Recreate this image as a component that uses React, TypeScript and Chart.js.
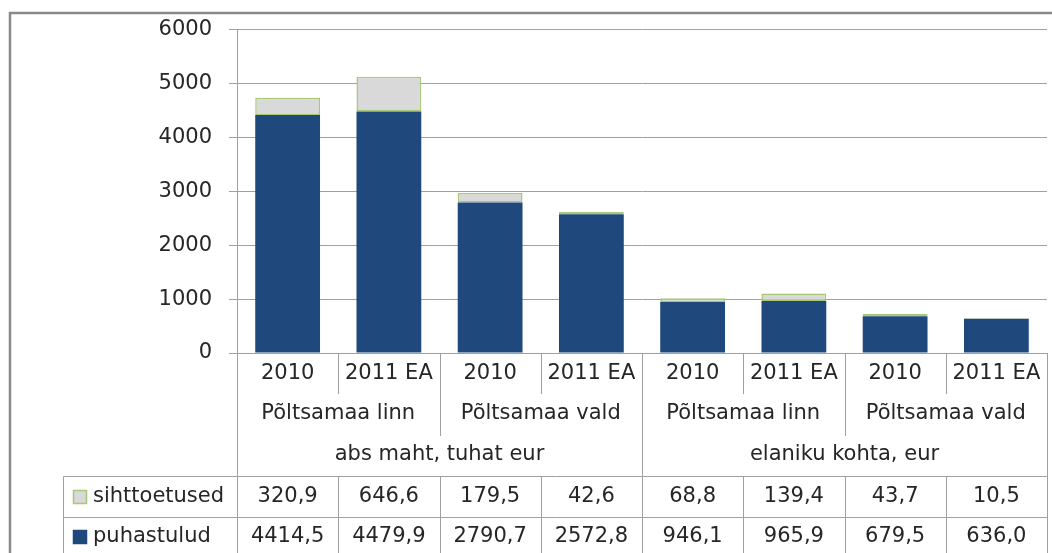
import React, { useEffect, useRef } from "react";
import { Chart, registerables } from "chart.js";

Chart.register(...registerables);

const categories = ["2010", "2011 EA", "2010", "2011 EA", "2010", "2011 EA", "2010", "2011 EA"];
const groups = ["Põltsamaa linn", "Põltsamaa vald", "Põltsamaa linn", "Põltsamaa vald"];
const supergroups = ["abs maht, tuhat eur", "elaniku kohta, eur"];
const puhastulud = [4414.5, 4479.9, 2790.7, 2572.8, 946.1, 965.9, 679.5, 636.0];
const sihttoetused = [320.9, 646.6, 179.5, 42.6, 68.8, 139.4, 43.7, 10.5];
const seriesNames = ["sihttoetused", "puhastulud"];
const yMin = 0;
const yMax = 6000;
const yStep = 1000;

const BLUE = "#1f497d";
const GRAY = "#d9d9d9";
const GREEN = "#a8c878";
const LINE = "#a0a0a0";
const TEXT = "#262626";
const FONT = "'DejaVu Sans'";
const FS = 21;

const fmt = (v: number) => v.toFixed(1).replace(".", ",");

const tablePlugin = {
  id: "tablePlugin",
  beforeDraw(chart: any) {
    const ctx = chart.ctx;
    ctx.save();
    ctx.strokeStyle = "#8a8a8a";
    ctx.lineWidth = 2.5;
    ctx.beginPath();
    ctx.moveTo(10, 600);
    ctx.lineTo(10, 13);
    ctx.lineTo(1060, 13);
    ctx.stroke();
    ctx.restore();
  },
  afterDraw(chart: any) {
    const ctx = chart.ctx;
    const x = chart.scales.x;
    const area = chart.chartArea;
    const n = categories.length;
    const w = x.getPixelForValue(1) - x.getPixelForValue(0);
    const left = area.left;
    const right = area.right;
    const axisY = area.bottom;
    const b = (i: number) => Math.round(x.getPixelForValue(i) - w / 2) + 0.5;
    const tableLeft = 63.5;
    const row1 = 476.5;
    const row2 = 517.5;
    const bottom = 560;

    ctx.save();
    ctx.strokeStyle = LINE;
    ctx.lineWidth = 1;
    ctx.beginPath();
    ctx.moveTo(left, axisY + 0.5);
    ctx.lineTo(right, axisY + 0.5);
    for (let i = 0; i <= n; i++) {
      const bx = i === n ? Math.round(right) + 0.5 : b(i);
      let y2 = axisY + 41;
      if (i === 0 || i === n || i === n / 2) y2 = bottom;
      else if (i % 2 === 0) y2 = axisY + 83;
      ctx.moveTo(bx, axisY);
      ctx.lineTo(bx, y2);
      ctx.moveTo(bx, row1);
      ctx.lineTo(bx, bottom);
    }
    ctx.moveTo(tableLeft, row1);
    ctx.lineTo(right, row1);
    ctx.moveTo(tableLeft, row2);
    ctx.lineTo(right, row2);
    ctx.moveTo(tableLeft, row1);
    ctx.lineTo(tableLeft, bottom);
    ctx.stroke();

    ctx.fillStyle = TEXT;
    ctx.font = `${FS}px ${FONT}`;
    ctx.textAlign = "center";
    ctx.textBaseline = "middle";
    for (let i = 0; i < n; i++) {
      const cx = x.getPixelForValue(i);
      ctx.fillText(categories[i], cx, axisY + 21);
      ctx.fillText(fmt(sihttoetused[i]), cx, 497);
      ctx.fillText(fmt(puhastulud[i]), cx, 537);
    }
    for (let g = 0; g < groups.length; g++) {
      const cx = (x.getPixelForValue(g * 2) + x.getPixelForValue(g * 2 + 1)) / 2;
      ctx.fillText(groups[g], cx, axisY + 61);
    }
    for (let s = 0; s < supergroups.length; s++) {
      const cx = (x.getPixelForValue(s * 4 + 1) + x.getPixelForValue(s * 4 + 2)) / 2;
      ctx.fillText(supergroups[s], cx, axisY + 102);
    }
    ctx.textAlign = "left";
    const rowsY = [497, 537];
    const fills = [GRAY, BLUE];
    const strokes = [GREEN, BLUE];
    for (let r = 0; r < 2; r++) {
      ctx.fillStyle = fills[r];
      ctx.fillRect(73, rowsY[r] - 7, 14, 14);
      ctx.strokeStyle = strokes[r];
      ctx.lineWidth = 1.5;
      ctx.strokeRect(73.5, rowsY[r] - 6.5, 13, 13);
      ctx.fillStyle = TEXT;
      ctx.fillText(seriesNames[r], 93, rowsY[r]);
    }
    ctx.restore();
  },
};

export default function App() {
  const ref = useRef<HTMLCanvasElement | null>(null);
  useEffect(() => {
    if (!ref.current) return;
    const chart = new Chart(ref.current, {
      type: "bar",
      data: {
        labels: categories,
        datasets: [
          {
            label: seriesNames[1],
            data: puhastulud,
            backgroundColor: BLUE,
            borderWidth: 0,
            barPercentage: 0.64,
            categoryPercentage: 1,
          },
          {
            label: seriesNames[0],
            data: sihttoetused,
            backgroundColor: GRAY,
            borderColor: GREEN,
            borderWidth: 1.5,
            borderSkipped: false,
            barPercentage: 0.64,
            categoryPercentage: 1,
          },
        ],
      },
      options: {
        animation: false,
        responsive: true,
        maintainAspectRatio: false,
        layout: { padding: { left: 0, top: 26, right: 5, bottom: 200 } },
        plugins: { legend: { display: false }, tooltip: { enabled: false } },
        scales: {
          x: {
            stacked: true,
            ticks: { display: false },
            grid: { display: false, drawTicks: false },
            border: { display: false },
            afterFit: (s: any) => {
              s.height = 0;
            },
          },
          y: {
            stacked: true,
            min: yMin,
            max: yMax,
            ticks: {
              stepSize: yStep,
              padding: 17,
              color: TEXT,
              font: { family: FONT, size: FS },
              callback: (v: any) => String(v),
            },
            grid: { color: LINE, tickLength: 8, lineWidth: 1 },
            border: { display: true, color: LINE },
            afterFit: (s: any) => {
              s.width = 237;
            },
          },
        },
      },
      plugins: [tablePlugin],
    });
    return () => chart.destroy();
  }, []);
  return (
    <div style={{ position: "absolute", left: 0, top: 0, width: 1052, height: 553, background: "#fff" }}>
      <canvas ref={ref} />
    </div>
  );
}
